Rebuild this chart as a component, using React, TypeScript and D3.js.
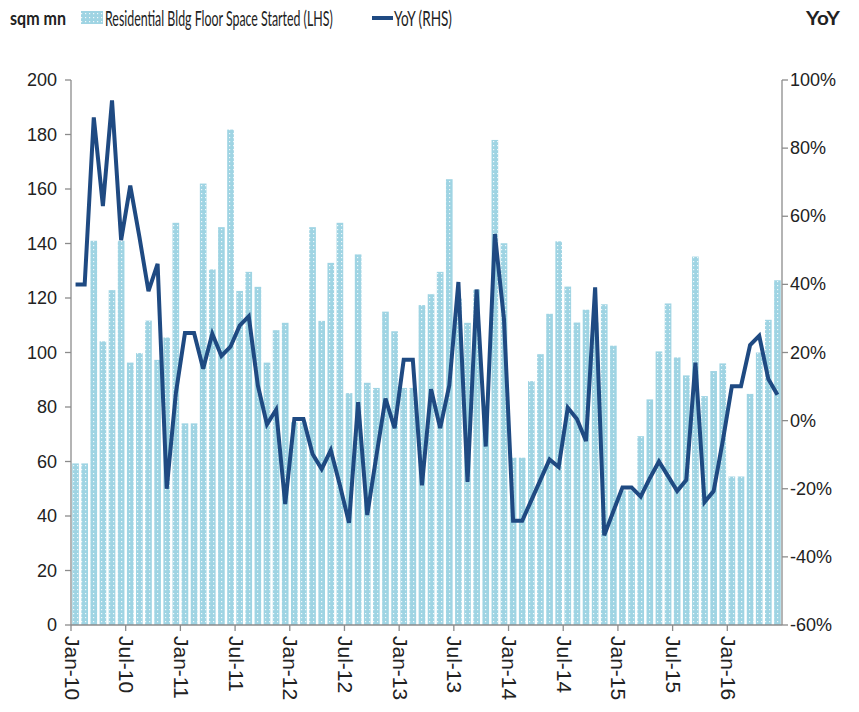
import React, { useLayoutEffect, useRef, useState } from "react";
import * as d3 from "d3";

const startMonth = new Date(2010, 0, 1);
const monthCount = 78;
const categories = d3.timeMonths(startMonth, d3.timeMonth.offset(startMonth, monthCount));

const floorSpace = [
  59.3, 59.3, 141, 104.1, 122.9, 141, 96.3, 99.8, 111.7, 97.3, 105.5, 147.6,
  74, 74, 162, 130.5, 146, 181.8, 122.6, 129.6, 124.1, 96.3, 108.2, 110.9,
  74.4, 74.4, 146, 111.6, 132.9, 147.6, 85.1, 136, 88.9, 87, 115, 107.8,
  87, 87, 117.4, 121.4, 129.6, 163.6, 119.8, 110.9, 123.1, 80, 178, 140.1,
  61.4, 61.4, 89.5, 99.4, 114.2, 140.8, 124.2, 111, 115.7, 111, 117.7, 102.5,
  49.4, 49.4, 69.3, 82.8, 100.4, 118, 98.2, 91.6, 135.2, 84, 93.2, 96,
  54.5, 54.5, 84.8, 100, 112, 126.5,
];

const yoy = [
  40, 40, 89, 63, 94, 53, 69, 54, 38, 46, -20, 8,
  25.7, 25.7, 15.2, 25.5, 19, 21.7, 27.9, 30.6, 10.3, -1.1, 3.2, -24.5,
  0.5, 0.5, -9.8, -14.2, -8.7, -19, -30, 5.4, -27.7, -10.4, 6.5, -2.2,
  17.9, 17.9, -19, 9.2, -2.2, 10.3, 40.7, -18, 38.5, -7.6, 54.8, 29.8,
  -29.4, -29.4, -23.4, -17.4, -11.4, -13.6, 3.8, 0.5, -6, 39.1, -33.7, -26.6,
  -19.6, -19.6, -22.3, -16.9, -12, -16.3, -20.7, -17.4, 17, -23.9, -20.7, -6,
  10.1, 10.1, 22.2, 24.9, 12.2, 7.6,
];

const leftTicks = [0, 20, 40, 60, 80, 100, 120, 140, 160, 180, 200];
const rightTicks = [-60, -40, -20, 0, 20, 40, 60, 80, 100];
const xTickLabels = [
  "Jan-10", "Jul-10", "Jan-11", "Jul-11", "Jan-12", "Jul-12", "Jan-13",
  "Jul-13", "Jan-14", "Jul-14", "Jan-15", "Jul-15", "Jan-16",
];

const fmtMonth = d3.timeFormat("%b-%y");

type FitProps = {
  x: number;
  y: number;
  width: number;
  size: number;
  bold?: boolean;
  fill: string;
  family: string;
  children: string;
};

function FitText({ x, y, width, size, bold, fill, family, children }: FitProps) {
  const ref = useRef<SVGTextElement>(null);
  const [sx, setSx] = useState(1);
  useLayoutEffect(() => {
    if (ref.current) {
      const w = ref.current.getComputedTextLength();
      if (w > 0) setSx(width / w);
    }
  }, [width, children]);
  return (
    <text
      ref={ref}
      transform={`translate(${x},${y}) scale(${sx},1)`}
      fontFamily={family}
      fontSize={size}
      fontWeight={bold ? "bold" : "normal"}
      fill={fill}
    >
      {children}
    </text>
  );
}

export default function App() {
  const W = 859;
  const H = 712;
  const left = 71;
  const right = 782;
  const top = 80;
  const bottom = 625;

  const keys = categories.map((d) => fmtMonth(d));
  const x = d3.scaleBand<string>().domain(keys).range([left, right]).paddingInner(0.27).paddingOuter(0.135);
  const yL = d3.scaleLinear().domain([0, 200]).range([bottom, top]);
  const yR = d3.scaleLinear().domain([-60, 100]).range([bottom, top]);

  const line = d3
    .line<number>()
    .x((_, i) => (x(keys[i]) as number) + x.bandwidth() / 2)
    .y((d) => yR(d));

  const step = x.step();
  const boundary = (k: string) => (x(k) as number) - (step - x.bandwidth()) / 2;

  const axisColor = "#8c8c8c";
  const textColor = "#222";
  const tickFont = "'Liberation Sans', Arial, sans-serif";
  const legendFont = "Lato, 'Open Sans', sans-serif";
  const lineColor = "#1f4a82";

  return (
    <svg width={W} height={H} style={{ position: "absolute", left: 0, top: 0, background: "#fff" }}>
      <defs>
        <pattern id="dots" width="4" height="4" patternUnits="userSpaceOnUse">
          <rect width="4" height="4" fill="#9fd4e3" />
          <rect x="1" y="1" width="1.2" height="1.2" fill="#ffffff" opacity="0.85" />
        </pattern>
      </defs>

      {/* bars */}
      {floorSpace.map((v, i) => (
        <rect
          key={keys[i]}
          x={x(keys[i])}
          y={yL(v)}
          width={x.bandwidth()}
          height={bottom - yL(v)}
          fill="url(#dots)"
        />
      ))}

      {/* axes */}
      <line x1={left} x2={left} y1={top} y2={bottom} stroke={axisColor} strokeWidth={1.3} />
      <line x1={right} x2={right} y1={top} y2={bottom} stroke={axisColor} strokeWidth={1.3} />
      <line x1={left} x2={right} y1={bottom} y2={bottom} stroke={axisColor} strokeWidth={1.3} />

      {leftTicks.map((t) => (
        <g key={"l" + t}>
          <line x1={left - 6} x2={left} y1={yL(t)} y2={yL(t)} stroke={axisColor} strokeWidth={1.3} />
          <text
            x={57}
            y={yL(t)}
            textAnchor="end"
            dominantBaseline="central"
            fontFamily={tickFont}
            fontSize={18}
            fill={textColor}
          >
            {t}
          </text>
        </g>
      ))}

      {rightTicks.map((t) => (
        <g key={"r" + t}>
          <line x1={right} x2={right + 6} y1={yR(t)} y2={yR(t)} stroke={axisColor} strokeWidth={1.3} />
          <text
            x={790}
            y={yR(t)}
            textAnchor="start"
            dominantBaseline="central"
            fontFamily={tickFont}
            fontSize={18}
            fill={textColor}
          >
            {t + "%"}
          </text>
        </g>
      ))}

      {xTickLabels.map((lab) => {
        const bx = boundary(lab);
        return (
          <g key={lab}>
            <line x1={bx} x2={bx} y1={bottom} y2={bottom + 6} stroke={axisColor} strokeWidth={1.3} />
            <text
              transform={`translate(${bx + 1},${bottom + 11}) rotate(90)`}
              textAnchor="start"
              dominantBaseline="central"
              fontFamily={tickFont}
              fontSize={21}
              fill={textColor}
            >
              {lab}
            </text>
          </g>
        );
      })}

      {/* line */}
      <path d={line(yoy) || ""} fill="none" stroke={lineColor} strokeWidth={4} strokeLinejoin="miter" strokeMiterlimit={4} />

      {/* legend & titles */}
      <FitText x={10} y={25} width={56} size={19} bold fill={textColor} family={legendFont}>
        sqm mn
      </FitText>
      <rect x={81} y={11} width={22} height={13} fill="url(#dots)" />
      <FitText x={105} y={26} width={228} size={21} fill={textColor} family={legendFont}>
        Residential Bldg Floor Space Started (LHS)
      </FitText>
      <line x1={372} x2={393} y1={18} y2={18} stroke={lineColor} strokeWidth={4} />
      <FitText x={394} y={26} width={58} size={21} fill={textColor} family={legendFont}>
        YoY (RHS)
      </FitText>
      <FitText x={806} y={25} width={34} size={19} bold fill={textColor} family={legendFont}>
        YoY
      </FitText>
    </svg>
  );
}
